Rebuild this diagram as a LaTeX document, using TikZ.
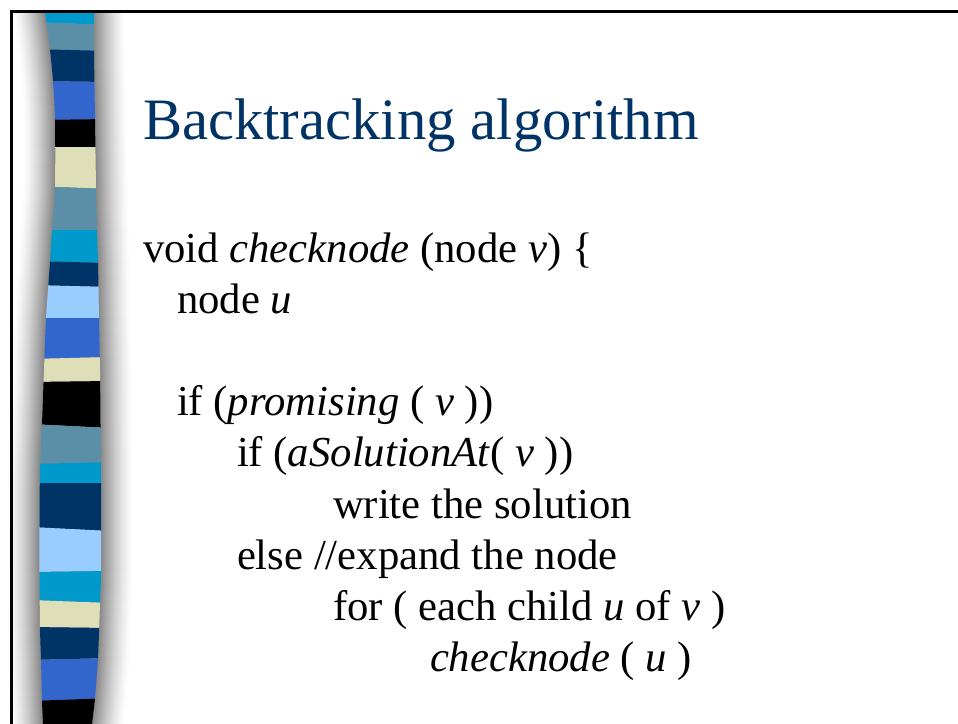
\documentclass[tikz,border=0pt]{standalone}
\usepackage{fontspec}
\setmainfont{Liberation Serif}
\definecolor{stCyan}{HTML}{0099CC}
\definecolor{stSteel}{HTML}{5B8FA8}
\definecolor{stNavy}{HTML}{003366}
\definecolor{stMed}{HTML}{3366CC}
\definecolor{stBeige}{HTML}{DEDEB9}
\definecolor{stLight}{HTML}{99CCFF}
\definecolor{titleblue}{HTML}{003366}

% outline of the wavy vertical band
\newcommand{\bandoutline}{%
  plot[smooth] coordinates {(45,11) (50,50) (53,81) (55,120) (55,186) (52,230)
    (50,262) (46,318) (44,370) (42,424) (40,470) (39.5,527) (39.5,572)
    (40,627) (41,660) (42,700) (43,724)}
  -- plot[smooth] coordinates {(92,724) (95,698) (98,658) (100,603) (101,572)
    (101,483) (100.5,424) (100,370) (99,318) (98,262) (97,230) (96,186)
    (95,119) (94,50) (94,11)}
  -- cycle}

\tikzset{
  codeline/.style={anchor=base west, inner sep=0pt, outer sep=0pt,
    font=\fontsize{42.7}{51}\selectfont, text=black},
  headline/.style={anchor=base west, inner sep=0pt, outer sep=0pt,
    font=\fontsize{58.7}{70}\selectfont, text=titleblue},
}

\begin{document}
\begin{tikzpicture}[x=1pt, y=-1pt]
  \useasboundingbox (0,0) rectangle (958,723);
  \fill[white] (0,0) rectangle (958,723);

  % soft shadow on both sides of the band
  \foreach \k in {32,31,...,1}{
    \pgfmathsetmacro\shade{48*(1-\k/33)^1.4}
    \fill[black!\shade!white, xshift=-\k pt] \bandoutline;
    \fill[black!\shade!white, xshift=\k pt] \bandoutline;
  }

  % coloured segments of the band
  \begin{scope}
    \clip \bandoutline;
    \foreach \ya/\yb/\yc/\yd/\col in {
      0/0/22/25/stCyan,
      22/25/49/51/stSteel,
      49/51/81/82/stNavy,
      81/82/120/119/stMed,
      120/119/147/147/black,
      147/147/186/189/stBeige,
      186/189/230/230/stSteel,
      230/230/261/263/stCyan,
      261/263/285/287/stNavy,
      285/287/318/318/stLight,
      318/318/359/357/stMed,
      359/357/382/381/stBeige,
      382/381/424/428/black,
      424/428/464/462/stSteel,
      464/462/483/483/stCyan,
      483/483/527/531/stNavy,
      527/531/572/571/stLight,
      572/571/600/603/stCyan,
      600/603/627/628/stBeige,
      627/628/660/658/stNavy,
      660/658/701/698/stMed,
      701/698/730/730/black}{
      \fill[\col] (30,\ya) -- (110,\yb) -- (110,\yd) -- (30,\yc) -- cycle;
    }
  \end{scope}

  % frame edge
  \draw[line width=3pt, line cap=rect] (11,725) -- (11,11) -- (960,11);

  % title
  \node[headline] (title) at (143,139) {Backtracking algorithm};

  % procedure text
  \node[codeline] (l1) at (143,262) {void \textit{checknode} (node \textit{v}) \{};
  \node[codeline] (l2) at (177,313) {node \textit{u}};
  \node[codeline] (l3) at (177,415) {if (\textit{promising} ( \textit{v} ))};
  \node[codeline] (l4) at (237,466.5) {if (\textit{aSolutionAt}( \textit{v} ))};
  \node[codeline] (l5) at (333,518) {write the solution};
  \node[codeline] (l6) at (237,569) {else //expand the node};
  \node[codeline] (l7) at (333,620) {for ( each child \textit{u} of \textit{v} )};
  \node[codeline] (l8) at (430,671) {\textit{checknode} ( \textit{u} )};
\end{tikzpicture}
\end{document}
